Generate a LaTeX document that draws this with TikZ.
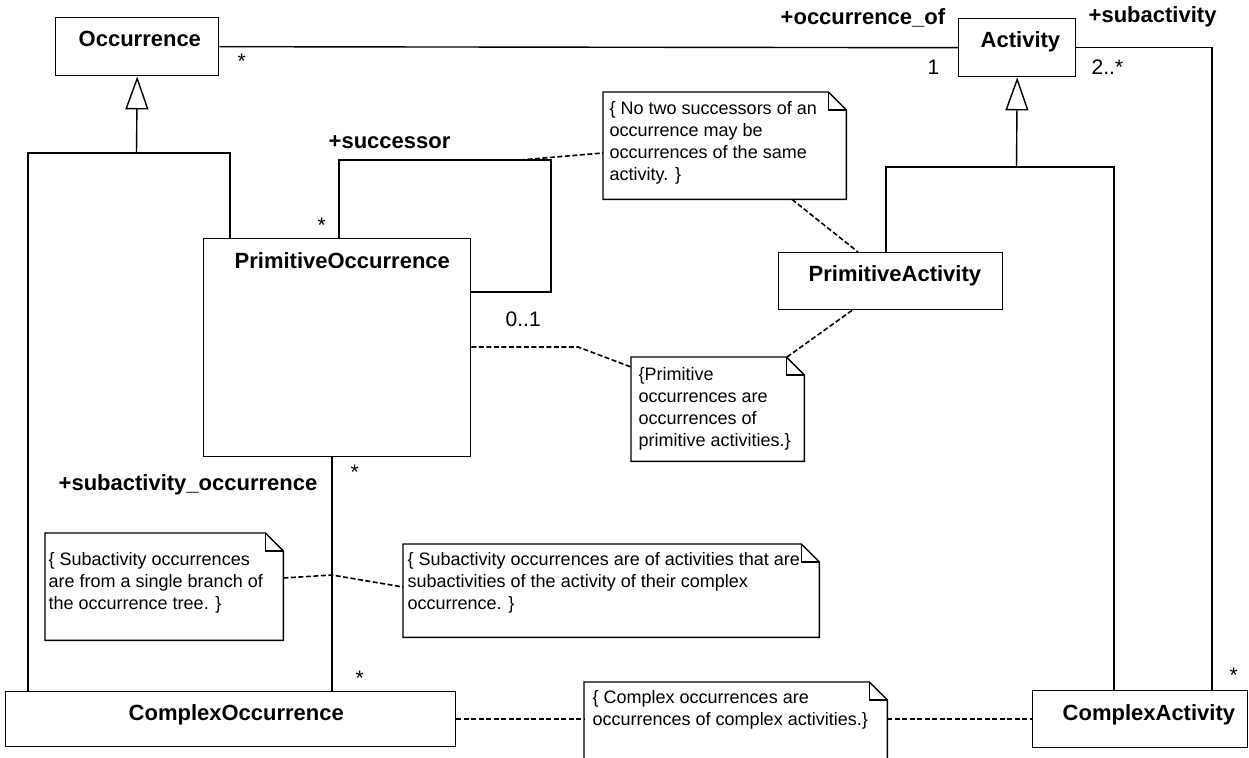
\documentclass[tikz,border=0pt]{standalone}
\usepackage{fontspec}
\setmainfont{Liberation Sans}
\usetikzlibrary{arrows.meta}
\newcommand\drawnotebox[1]{%
  \draw ([xshift=-18pt]#1.north east) -- (#1.north west) -- (#1.south west) -- (#1.south east) -- ([yshift=-18pt]#1.north east) -- cycle;
  \draw ([xshift=-18pt]#1.north east) |- ([yshift=-18pt]#1.north east);}
\begin{document}
\begin{tikzpicture}[x=1pt,y=-1pt,line width=1.4pt,
  classbox/.style={draw,rectangle,inner sep=0pt,anchor=north west},
  classname/.style={font=\fontsize{22}{26}\selectfont\bfseries,anchor=base west,inner sep=0pt},
  rolelabel/.style={font=\fontsize{22}{26}\selectfont\bfseries,anchor=base west,inner sep=0pt},
  mult/.style={font=\fontsize{21}{25}\selectfont,anchor=base west,inner sep=0pt},
  notearea/.style={rectangle,inner sep=0pt,anchor=north west},
  notetext/.style={font=\fontsize{18}{22}\selectfont,anchor=base west,inner sep=0pt,align=left},
  noteline/.style={dash pattern=on 5pt off 2.5pt,line width=1.6pt},
  gen/.style={-{Triangle[open,width=23pt,length=33pt,line width=1.4pt]}}
]
\useasboundingbox (0,0) rectangle (1249,757);

% class boxes
\node[classbox,minimum width=163pt,minimum height=58pt] (occ) at (55,17) {};
\node[classname] (occ-t) at (78,47) {Occurrence};
\node[classbox,minimum width=117pt,minimum height=58pt] (act) at (958,18) {};
\node[classname] (act-t) at (980,48) {Activity};
\node[classbox,minimum width=267pt,minimum height=218pt] (po) at (203,238) {};
\node[classname] (po-t) at (234,268) {PrimitiveOccurrence};
\node[classbox,minimum width=224pt,minimum height=57pt] (pa) at (778,252) {};
\node[classname] (pa-t) at (808,281) {PrimitiveActivity};
\node[classbox,minimum width=450pt,minimum height=55pt] (co) at (5,691) {};
\node[classname] (co-t) at (128,720) {ComplexOccurrence};
\node[classbox,minimum width=215pt,minimum height=57pt] (ca) at (1032,690) {};
\node[classname] (ca-t) at (1062,720) {ComplexActivity};

% notes (text anchored at the baseline of the last line)
\node[notearea,minimum width=242pt,minimum height=106pt] (n1) at (603,92) {};
\drawnotebox{n1}
\node[notetext] (n1-t) at (609,180) {\{ No two successors of an\\occurrence may be\\occurrences of the same\\activity. \}};
\node[notearea,minimum width=172pt,minimum height=103pt] (n2) at (631,357) {};
\drawnotebox{n2}
\node[notetext] (n2-t) at (638,446) {\{Primitive\\occurrences are\\occurrences of\\primitive activities.\}};
\node[notearea,minimum width=237pt,minimum height=106pt] (n3) at (45,533) {};
\drawnotebox{n3}
\node[notetext] (n3-t) at (48,609) {\{ Subactivity occurrences\\are from a single branch of\\the occurrence tree. \}};
\node[notearea,minimum width=415pt,minimum height=92pt] (n4) at (403,544) {};
\drawnotebox{n4}
\node[notetext] (n4-t) at (407,609) {\{ Subactivity occurrences are of activities that are\\subactivities of the activity of their complex\\occurrence. \}};
\node[notearea,minimum width=302pt,minimum height=82pt] (n5) at (584,682) {};
\drawnotebox{n5}
\node[notetext] (n5-t) at (592,725) {\{ Complex occurrences are\\occurrences of complex activities.\}};

% generalization: Occurrence
\coordinate (g1) at (136.5,153);
\coordinate (gL) at (28,153);
\coordinate (gR) at (230,153);
\draw[gen] (g1) -- (occ.south);
\draw (gL |- co.north) -- (gL) -- (gR) -- (gR |- po.north);

% generalization: Activity
\coordinate (g2) at (1016.5,167);
\coordinate (aL) at (886,167);
\coordinate (aR) at (1114,167);
\draw[gen] (g2) -- (act.south);
\draw (aL |- pa.north) -- (aL) -- (aR) -- (aR |- ca.north);

% associations
\draw (occ.east) -- (act.west);
\coordinate (sub) at (1212,690);
\draw (act.east) -| (sub);
\coordinate (soc) at (332,456);
\draw (soc) -- (soc |- co.north);
\coordinate (l1) at (339,160);
\coordinate (l2) at (551,292);
\draw (l1 |- po.north) -- (l1) -| (l2) -- (l2 -| po.east);

% dashed note links
\coordinate (lp) at (520,160);
\draw[noteline] (lp) -- ([yshift=-61pt]n1.north west);
\draw[noteline] (n1.south -| 792,0) -- (pa.north -| 858,0);
\coordinate (b3) at (578,347);
\draw[noteline] (po.east |- b3) -- (b3) -- (n2.west |- 0,367);
\draw[noteline] (n2.north -| 787,0) -- (pa.south -| 852,0);
\coordinate (b5) at (332,575);
\draw[noteline] (n3.east |- 0,578) -- (b5) -- (n4.west |- 0,587);
\draw[noteline] (co.east) -- (n5.west |- co.east);
\draw[noteline] (n5.east |- ca.west) -- (ca.west);

% role names and multiplicities
\node[rolelabel] (r1) at (780,25) {+occurrence\_of};
\node[rolelabel] (r2) at (1088,23) {+subactivity};
\node[rolelabel] (r3) at (328,148) {+successor};
\node[rolelabel] (r4) at (58,490) {+subactivity\_occurrence};
\node[mult] (m1) at (927,75) {1};
\node[mult] (m2) at (1091,75) {2..*};
\node[mult] (m3) at (237,69) {*};
\node[mult] (m4) at (317,232) {*};
\node[mult] (m5) at (505,326) {0..1};
\node[mult] (m6) at (350,479) {*};
\node[mult] (m7) at (355,685) {*};
\node[mult] (m8) at (1229,682) {*};
\end{tikzpicture}
\end{document}
